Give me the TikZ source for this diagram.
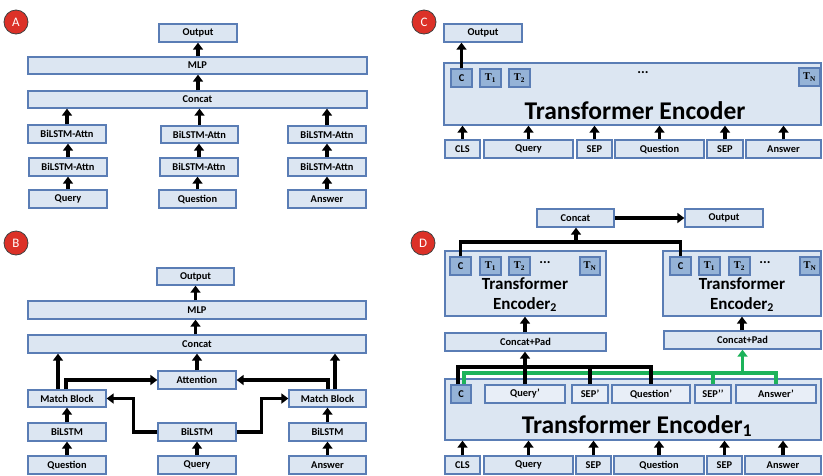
\documentclass[tikz,border=0pt]{standalone}
\usepackage{fontspec}
\setmainfont{Carlito}
\newfontfamily\tokfont{Liberation Serif}
\usetikzlibrary{arrows.meta}
\definecolor{boxfill}{HTML}{DCE6F2}
\definecolor{boxline}{HTML}{5A7DB5}
\definecolor{tokfill}{HTML}{95B3D7}
\definecolor{subfill}{HTML}{E8EEF7}
\definecolor{tagred}{HTML}{DC3128}
\definecolor{linkgreen}{HTML}{1DB35A}
\tikzset{
  box/.style={draw=boxline,fill=boxfill,line width=1.3pt,inner sep=0pt,
    font=\fontsize{10.4}{12}\selectfont\bfseries,text=black},
  tok/.style={box,fill=tokfill},
  sub/.style={box,fill=subfill},
  arr/.style={line width=3.2pt,-{Triangle[width=10pt,length=7pt]}},
  link/.style={line width=3.2pt},
  glink/.style={line width=3.2pt,draw=linkgreen},
  tag/.style={circle,draw=black!75,line width=0.8pt,fill=tagred,minimum size=24pt,
    inner sep=0pt,text=white,font=\fontsize{13}{13}\selectfont},
  bigtxt/.style={font=\fontsize{25.5}{27}\selectfont\bfseries,text=black},
  midtxt/.style={font=\fontsize{17}{19.5}\selectfont\bfseries,text=black,align=center},
  dots/.style={font=\fontsize{14}{14}\selectfont\bfseries},
}
% \bx[options]{name}{x1}{y1}{x2}{y2}{text}
\newcommand\bx[7][]{\node[box,#1,minimum width={#5-#3},minimum height={#6-#4}] (#2) at ({(#3+#5)/2},{(#4+#6)/2}) {#7};}
\newcommand\Tk[1]{{\tokfont\bfseries T\textsubscript{#1}}}
\begin{document}
\begin{tikzpicture}[x=1pt,y=-1pt]
\useasboundingbox (0,0) rectangle (823,475);

% ---------------- A ----------------
\node[tag] (tA) at (16,22) {A};
\bx{aOut}{159}{24}{237}{42}{Output}
\bx{aMLP}{28}{57}{367}{74}{MLP}
\bx{aCat}{28}{91}{367}{108}{Concat}
\bx{aQ2}{28}{125}{106}{143}{BiLSTM-Attn}
\bx{aQ1}{29}{158}{107}{176}{BiLSTM-Attn}
\bx{aQ}{29}{190}{107}{208}{Query}
\bx{aU2}{161}{126}{238}{143}{BiLSTM-Attn}
\bx{aU1}{160}{158}{238}{176}{BiLSTM-Attn}
\bx{aU}{159}{190}{236}{208}{Question}
\bx{aA2}{288}{126}{366}{143}{BiLSTM-Attn}
\bx{aA1}{288}{158}{366}{176}{BiLSTM-Attn}
\bx{aA}{288}{190}{366}{208}{Answer}
\foreach \lo/\hi in {aQ/aQ1,aQ1/aQ2,aU/aU1,aU1/aU2,aA/aA1,aA1/aA2}
  \draw[arr] (\lo.north) -- (\lo.north |- \hi.south);
\foreach \lo in {aQ2,aU2,aA2}
  \draw[arr] (\lo.north) -- (\lo.north |- aCat.south);
\draw[arr] (aOut.south |- aCat.north) -- (aOut.south |- aMLP.south);
\draw[arr] (aOut.south |- aMLP.north) -- (aOut.south);

% ---------------- B ----------------
\node[tag] (tB) at (16,243) {B};
\bx{bOut}{157}{268}{234}{285}{Output}
\bx{bMLP}{28}{301}{366}{319}{MLP}
\bx{bCat}{28}{335}{366}{353}{Concat}
\bx{bAtt}{158}{371}{236}{389}{Attention}
\bx{bML}{28}{390}{106}{407}{Match Block}
\bx{bMR}{289}{390}{366}{407}{Match Block}
\bx{bLL}{28}{423}{106}{441}{BiLSTM}
\bx{bLM}{158}{423}{236}{441}{BiLSTM}
\bx{bLR}{289}{423}{366}{441}{BiLSTM}
\bx{bQn}{28}{456}{106}{474}{Question}
\bx{bQy}{158}{456}{236}{474}{Query}
\bx{bAn}{289}{456}{366}{474}{Answer}
\foreach \lo/\hi in {bQn/bLL,bLL/bML,bQy/bLM,bAn/bLR,bLR/bMR}
  \draw[arr] (\lo.north) -- (\lo.north |- \hi.south);
\draw[arr] (bAtt.north) -- (bAtt.north |- bCat.south);
\draw[arr] (bOut.south |- bCat.north) -- (bOut.south |- bMLP.south);
\draw[arr] (bOut.south |- bMLP.north) -- (bOut.south);
\draw[arr] ([xshift=-9pt]bML.north) -- ([xshift=-9pt]bML.north |- bCat.south);
\draw[arr] ([xshift=7.5pt]bMR.north) -- ([xshift=7.5pt]bMR.north |- bCat.south);
\draw[arr] ([xshift=-1pt]bML.north) |- (bAtt.west);
\draw[arr] ([xshift=0.5pt]bMR.north) |- (bAtt.east);
\draw[arr] (bLM.west) -| ([xshift=27pt]bML.east) -- (bML.east);
\draw[arr] (bLM.east) -| ([xshift=-27pt]bMR.west) -- (bMR.west);

% ---------------- C ----------------
\node[tag] (tC) at (424,22) {C};
\bx{cOut}{444}{24}{522}{42}{Output}
\bx{cTE}{444}{63}{821}{125}{}
\node[bigtxt] (cTxt) at (635,111) {Transformer Encoder};
\bx[tok]{cC}{451}{69}{472}{87}{C}
\bx[tok]{cT1}{480}{69}{501}{87}{\Tk{1}}
\bx[tok]{cT2}{509}{69}{530}{87}{\Tk{2}}
\bx[tok]{cTN}{799}{68}{820}{86}{\Tk{N}}
\node[dots] (cDots) at (643,73) {...};
\bx{cCLS}{445}{140}{480}{158}{CLS}
\bx{cQy}{484}{140}{573}{158}{Query}
\bx{cS1}{577}{140}{612}{158}{SEP}
\bx{cQn}{615}{140}{704}{158}{Question}
\bx{cS2}{707}{140}{743}{158}{SEP}
\bx{cAn}{746}{140}{821}{158}{Answer}
\foreach \lo in {cCLS,cQy,cS1,cQn,cS2,cAn}
  \draw[arr] (\lo.north) -- (\lo.north |- cTE.south);
\draw[arr] (cC.north) -- (cC.north |- cOut.south);

% ---------------- D ----------------
\node[tag] (tD) at (423,243) {D};
\bx{dCat}{537}{209}{614}{227}{Concat}
\bx{dOut}{685}{209}{763}{227}{Output}
\draw[arr] (dCat.east) -- (dOut.west);

\bx{dTL}{445}{251}{606}{316}{}
\bx{dTR}{663}{251}{821}{316}{}
\node[midtxt] (dTxtL) at (525,295) {Transformer\\Encoder\textsubscript{2}};
\node[midtxt] (dTxtR) at (742,295) {Transformer\\Encoder\textsubscript{2}};
\bx[tok]{dLC}{450}{257}{471}{275}{C}
\bx[tok]{dLT1}{480}{257}{501}{275}{\Tk{1}}
\bx[tok]{dLT2}{509}{257}{530}{275}{\Tk{2}}
\node[dots] (dLDots) at (545,263) {...};
\bx[tok]{dLTN}{580}{257}{600}{275}{\Tk{N}}
\bx[tok]{dRC}{670}{257}{691}{275}{C}
\bx[tok]{dRT1}{699}{257}{720}{275}{\Tk{1}}
\bx[tok]{dRT2}{729}{257}{750}{275}{\Tk{2}}
\node[dots] (dRDots) at (765,263) {...};
\bx[tok]{dRTN}{800}{257}{820}{275}{\Tk{N}}

\coordinate (dJ) at (576,242);
\draw[link] (dLC.north) |- (dJ) -| (dRC.north);
\draw[arr] (dJ) -- (dJ |- dCat.south);

\bx{dPL}{445}{333}{606}{351}{Concat+Pad}
\bx{dPR}{664}{331}{821}{349}{Concat+Pad}
\draw[arr] (dPL.north -| dTxtL) -- (dTxtL |- dTL.south);
\draw[arr] (dPR.north -| dTxtR) -- (dTxtR |- dTR.south);

\bx{dTE}{445}{379}{821}{440}{}
\node[bigtxt] (dTxt) at (637,426) {Transformer Encoder\textsubscript{1}};
\bx[tok]{dC}{451}{385}{471}{403}{C}
\bx[sub]{dQyp}{485}{385}{565}{403}{Query’}
\bx[sub]{dSp}{572}{385}{608}{403}{SEP’}
\bx[sub]{dQnp}{612}{385}{690}{403}{Question’}
\bx[sub]{dSpp}{695}{385}{731}{403}{SEP’’}
\bx[sub]{dAnp}{736}{385}{816}{403}{Answer’}

% green branch: C, SEP'' and Answer' feed the right Concat+Pad
\coordinate (dG) at (776,373);
\draw[glink] ([xshift=3pt]dC.north) |- (dG) -- (dAnp.north);
\draw[glink] (dSpp.north) -- (dSpp.north |- dG);
\draw[glink,arr] (dPR.south |- dG) -- (dPR.south);

% black branch: C, Query', SEP' and Question' feed the left Concat+Pad
\coordinate (dK) at (651,367);
\draw[link] ([xshift=-3pt]dC.north) |- (dK) -- (dQnp.north);
\draw[link] (dSp.north) -- (dSp.north |- dK);
\draw[arr] (dQyp.north) -- (dQyp.north |- dPL.south);

\bx{dCLS}{445}{456}{480}{474}{CLS}
\bx{dQy}{484}{456}{573}{474}{Query}
\bx{dS1}{576}{456}{611}{474}{SEP}
\bx{dQn}{614}{456}{704}{474}{Question}
\bx{dS2}{707}{456}{742}{474}{SEP}
\bx{dAn}{745}{456}{821}{474}{Answer}
\foreach \lo in {dCLS,dQy,dS1,dQn,dS2,dAn}
  \draw[arr] (\lo.north) -- (\lo.north |- dTE.south);
\end{tikzpicture}
\end{document}
